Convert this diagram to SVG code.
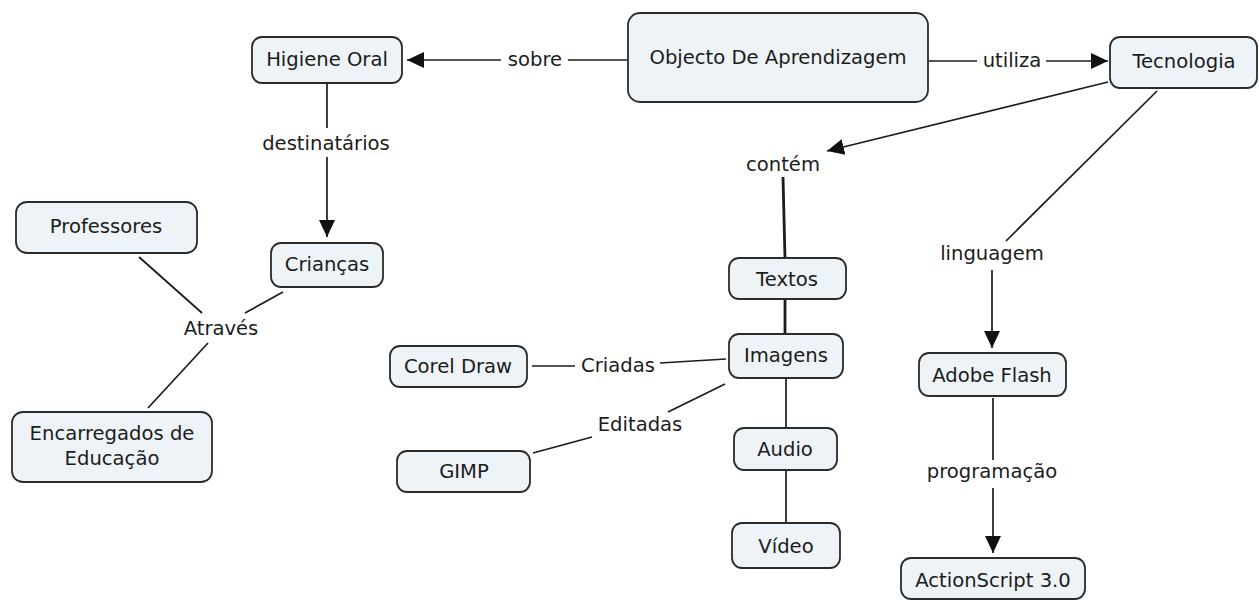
<svg xmlns="http://www.w3.org/2000/svg" width="1259" height="600" viewBox="0 0 1259 600">
<style>
.node rect{fill:#edf3f7;stroke:#2b2b2b;stroke-width:1.8}
text{font-family:"DejaVu Sans","Liberation Sans",sans-serif;font-size:19.6px;fill:#1c1c1c;text-anchor:middle}
.c line,.c polyline{stroke:#1c1c1c;stroke-width:1.7;fill:none}
.c .thick{stroke-width:2.8}
</style>
<defs>
<marker id="arr" markerUnits="userSpaceOnUse" markerWidth="18" markerHeight="18" refX="17" refY="8" orient="auto" viewBox="0 0 18 16">
<path d="M0,0 L17,8 L0,16 z" fill="#111"/>
</marker>
</defs>
<rect width="1259" height="600" fill="#fff"/>
<g id="connectors" class="c">
<line x1="627" y1="60" x2="568" y2="60"/>
<line x1="501" y1="60" x2="407" y2="60" marker-end="url(#arr)"/>
<text x="535" y="66">sobre</text>
<line x1="929" y1="61" x2="977" y2="61"/>
<line x1="1046" y1="61" x2="1108" y2="61" marker-end="url(#arr)"/>
<text x="1012" y="67">utiliza</text>
<line x1="327" y1="84" x2="327" y2="128"/>
<line x1="327" y1="157" x2="327" y2="237" marker-end="url(#arr)"/>
<text x="326" y="150">destinatários</text>
<line x1="139" y1="257" x2="202" y2="313"/>
<line x1="283" y1="292" x2="245" y2="313"/>
<line x1="208" y1="343" x2="148" y2="408"/>
<text x="221" y="335">Através</text>
<line x1="1108" y1="82" x2="827" y2="151" marker-end="url(#arr)"/>
<text x="783" y="171">contém</text>
<line class="thick" x1="783" y1="177" x2="785" y2="258"/>
<line class="thick" x1="785" y1="299" x2="785" y2="334"/>
<line x1="786" y1="378" x2="786" y2="428"/>
<line x1="786" y1="470" x2="786" y2="522"/>
<line x1="532" y1="366" x2="575" y2="366"/>
<line x1="660" y1="363" x2="726" y2="359"/>
<text x="618" y="372">Criadas</text>
<line x1="725" y1="384" x2="668" y2="412"/>
<line x1="592" y1="437" x2="533" y2="453"/>
<text x="640" y="431">Editadas</text>
<line x1="1157" y1="91" x2="1006" y2="241"/>
<text x="992" y="260">linguagem</text>
<line x1="992" y1="270" x2="992" y2="348" marker-end="url(#arr)"/>
<line x1="993" y1="398" x2="993" y2="460"/>
<text x="992" y="478">programação</text>
<line x1="993" y1="488" x2="993" y2="553" marker-end="url(#arr)"/>
</g>
<g id="n-higiene" class="node"><rect x="252" y="37" width="150" height="46" rx="10"/><text x="327" y="66">Higiene Oral</text></g>
<g id="n-objecto" class="node"><rect x="628" y="13" width="300" height="89" rx="12"/><text x="778" y="64">Objecto De Aprendizagem</text></g>
<g id="n-tecnologia" class="node"><rect x="1110" y="37" width="147" height="51" rx="10"/><text x="1184" y="68">Tecnologia</text></g>
<g id="n-professores" class="node"><rect x="16" y="202" width="181" height="51" rx="11"/><text x="106" y="233">Professores</text></g>
<g id="n-criancas" class="node"><rect x="271" y="243" width="112" height="44" rx="10"/><text x="327" y="271">Crianças</text></g>
<g id="n-encarregados" class="node"><rect x="12" y="412" width="200" height="70" rx="11"/><text x="112" y="440">Encarregados de</text><text x="112" y="465">Educação</text></g>
<g id="n-textos" class="node"><rect x="729" y="258" width="117" height="41" rx="10"/><text x="787" y="286">Textos</text></g>
<g id="n-imagens" class="node"><rect x="729" y="334" width="114" height="44" rx="10"/><text x="786" y="362">Imagens</text></g>
<g id="n-audio" class="node"><rect x="734" y="428" width="103" height="42" rx="10"/><text x="785" y="456">Audio</text></g>
<g id="n-video" class="node"><rect x="732" y="523" width="108" height="45" rx="10"/><text x="786" y="553">Vídeo</text></g>
<g id="n-corel" class="node"><rect x="390" y="346" width="137" height="41" rx="10"/><text x="458" y="373">Corel Draw</text></g>
<g id="n-gimp" class="node"><rect x="397" y="451" width="133" height="41" rx="10"/><text x="464" y="478">GIMP</text></g>
<g id="n-flash" class="node"><rect x="919" y="353" width="147" height="43" rx="10"/><text x="992" y="382">Adobe Flash</text></g>
<g id="n-actionscript" class="node"><rect x="901" y="558" width="184" height="41" rx="10"/><text x="993" y="587">ActionScript 3.0</text></g>
</svg>
